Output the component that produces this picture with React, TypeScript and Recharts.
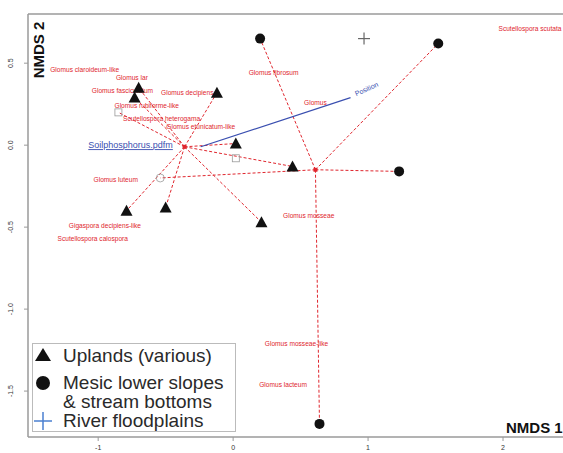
import React from "react";
import { ScatterChart, Scatter, XAxis, YAxis, ReferenceLine, Label } from "recharts";

// site scores
const uplandsX = [-0.7, -0.73, -0.12, 0.02, 0.44, -0.79, -0.5, 0.21];
const uplandsY = [0.35, 0.29, 0.32, 0.01, -0.13, -0.4, -0.38, -0.47];
const mesicX = [0.2, 1.52, 1.23, 0.64];
const mesicY = [0.65, 0.62, -0.16, -1.7];
const floodX = [0.97];
const floodY = [0.65];

// group centroids (spider hubs)
const uplandsHub = { x: -0.36, y: -0.01 };
const mesicHub = { x: 0.61, y: -0.15 };

// open symbols
const openSquareX = [-0.85, 0.02];
const openSquareY = [0.2, -0.08];
const openCircleX = [-0.54];
const openCircleY = [-0.2];

// species labels
const speciesNames = [
  "Glomus claroideum-like",
  "Glomus lar",
  "Glomus fasciculatum",
  "Glomus decipiens",
  "Glomus rubiforme-like",
  "Scutellospora heterogama",
  "Glomus etunicatum-like",
  "Glomus luteum",
  "Gigaspora decipiens-like",
  "Scutellospora calospora",
  "Glomus fibrosum",
  "Glomus",
  "Glomus mosseae",
  "Glomus mosseae-like",
  "Glomus lacteum",
  "Scutellospora scutata",
];
const speciesX = [-1.1, -0.75, -0.82, -0.34, -0.64, -0.53, -0.24, -0.87, -0.95, -1.04, 0.3, 0.61, 0.56, 0.47, 0.37, 2.2];
const speciesY = [0.46, 0.41, 0.33, 0.32, 0.24, 0.16, 0.11, -0.21, -0.49, -0.57, 0.44, 0.26, -0.43, -1.21, -1.46, 0.71];

// fitted environmental vector
const vectorFrom = { x: -0.24, y: -0.01 };
const vectorTo = { x: 0.87, y: 0.29 };
const vectorLabels = ["Soilphosphorus.pdfm", "Position"];
const vectorLabelX = [-0.76, 0.99];
const vectorLabelY = [0.0, 0.34];

const xTicks = [-1, 0, 1, 2];
const yTicks = [0.5, 0, -0.5, -1, -1.5];

const RED = "#e0262e";
const BLUE = "#3a4fb0";
const AXIS = "#9a9a9a";
const FONT = "Liberation Sans, Arial, sans-serif";

const zip = (xs: number[], ys: number[]) => xs.map((x, i) => ({ x, y: ys[i] }));
const uplands = zip(uplandsX, uplandsY);
const mesic = zip(mesicX, mesicY);
const flood = zip(floodX, floodY);
const species = speciesNames.map((name, i) => ({ x: speciesX[i], y: speciesY[i], name }));
const vecLabels = vectorLabels.map((name, i) => ({ x: vectorLabelX[i], y: vectorLabelY[i], name }));

const Triangle = (p: any) => (
  <polygon points={`${p.cx},${p.cy - 6} ${p.cx - 6},${p.cy + 5} ${p.cx + 6},${p.cy + 5}`} fill="#111" />
);
const Dot = (p: any) => <circle cx={p.cx} cy={p.cy} r={5} fill="#111" />;
const Cross = (p: any) => (
  <g stroke="#666" strokeWidth={1.2}>
    <line x1={p.cx - 6} y1={p.cy} x2={p.cx + 6} y2={p.cy} />
    <line x1={p.cx} y1={p.cy - 6} x2={p.cx} y2={p.cy + 6} />
  </g>
);
const OpenSquare = (p: any) => (
  <rect x={p.cx - 3.5} y={p.cy - 3.5} width={7} height={7} fill="none" stroke="#999" strokeWidth={0.8} />
);
const OpenCircle = (p: any) => <circle cx={p.cx} cy={p.cy} r={4} fill="none" stroke="#999" strokeWidth={0.8} />;
const HubMark = (p: any) => <rect x={p.cx - 2} y={p.cy - 2} width={4} height={4} fill={RED} />;

const SpeciesText = (p: any) => (
  <text x={p.cx} y={p.cy} dy={2} fontSize={6.6} fill={RED} textAnchor="middle" fontFamily={FONT}>
    {p.payload.name}
  </text>
);
const VectorText = (p: any) =>
  p.payload.name === "Position" ? (
    <text x={p.cx} y={p.cy} dy={2} fontSize={7} fill={BLUE} textAnchor="middle" transform={`rotate(-24 ${p.cx} ${p.cy})`} fontFamily={FONT}>
      {p.payload.name}
    </text>
  ) : (
    <text x={p.cx} y={p.cy} dy={3} fontSize={9} fill={BLUE} textAnchor="middle" textDecoration="underline" fontFamily={FONT}>
      {p.payload.name}
    </text>
  );

const XTick = (p: any) => (
  <text x={p.x} y={p.y + 7} fontSize={7} fill="#333" textAnchor="middle" fontFamily={FONT}>
    {p.payload.value}
  </text>
);
const YTick = (p: any) => (
  <text x={p.x - 9} y={p.y} fontSize={7} fill="#333" textAnchor="middle" transform={`rotate(-90 ${p.x - 9} ${p.y})`} fontFamily={FONT}>
    {p.payload.value.toFixed(1)}
  </text>
);

const spider = (hub: { x: number; y: number }, xs: number[], ys: number[]) =>
  xs.map((x, i) => (
    <ReferenceLine
      key={`${hub.x}-${i}`}
      segment={[hub, { x, y: ys[i] }]}
      stroke={RED}
      strokeWidth={1}
      strokeDasharray="3 2"
      ifOverflow="visible"
    />
  ));

const legendRows = [
  { label: "Uplands (various)", sym: "tri" },
  { label: "Mesic lower slopes\n& stream bottoms", sym: "dot" },
  { label: "River floodplains", sym: "cross" },
];

export default function App() {
  return (
    <div style={{ position: "fixed", left: 0, top: 0, width: 563, height: 453, overflow: "hidden", background: "#fff" }}>
      <ScatterChart width={594} height={453} margin={{ top: 14, right: 10, bottom: 0, left: 0 }}>
        <XAxis
          type="number"
          dataKey="x"
          domain={[-1.52, 2.6]}
          ticks={xTicks}
          height={16}
          tick={<XTick />}
          tickSize={4}
          tickLine={{ stroke: AXIS }}
          axisLine={{ stroke: AXIS, strokeWidth: 1.5 }}
          allowDataOverflow
        >
          <Label
            content={() => (
              <text x={506} y={433} fontSize={15} fontWeight="bold" fill="#111" fontFamily={FONT}>
                NMDS 1
              </text>
            )}
          />
        </XAxis>
        <YAxis
          type="number"
          dataKey="y"
          domain={[-1.78, 0.8]}
          ticks={yTicks}
          width={28}
          tick={<YTick />}
          tickSize={4}
          tickLine={{ stroke: AXIS }}
          axisLine={{ stroke: AXIS, strokeWidth: 1.5 }}
          allowDataOverflow
        >
          <Label
            content={() => (
              <text x={44} y={50} fontSize={15} fontWeight="bold" fill="#111" textAnchor="middle" transform="rotate(-90 44 50)" fontFamily={FONT}>
                NMDS 2
              </text>
            )}
          />
        </YAxis>
        <ReferenceLine y={0.8} stroke={AXIS} strokeWidth={1.5} />

        {spider(uplandsHub, uplandsX, uplandsY)}
        {spider(uplandsHub, [openSquareX[0]], [openSquareY[0]])}
        {spider(mesicHub, mesicX, mesicY)}
        {spider(mesicHub, openCircleX, openCircleY)}
        <ReferenceLine segment={[vectorFrom, vectorTo]} stroke={BLUE} strokeWidth={1.2} ifOverflow="visible" />

        <Scatter data={species} shape={<SpeciesText />} isAnimationActive={false} />
        <Scatter data={vecLabels} shape={<VectorText />} isAnimationActive={false} />
        <Scatter data={zip(openSquareX, openSquareY)} shape={<OpenSquare />} isAnimationActive={false} />
        <Scatter data={zip(openCircleX, openCircleY)} shape={<OpenCircle />} isAnimationActive={false} />
        <Scatter data={[uplandsHub, mesicHub]} shape={<HubMark />} isAnimationActive={false} />
        <Scatter name="Uplands (various)" data={uplands} shape={<Triangle />} isAnimationActive={false} />
        <Scatter name="Mesic lower slopes & stream bottoms" data={mesic} shape={<Dot />} isAnimationActive={false} />
        <Scatter name="River floodplains" data={flood} shape={<Cross />} isAnimationActive={false} />
      </ScatterChart>

      <div
        style={{
          position: "absolute",
          left: 32,
          top: 343,
          width: 204,
          height: 89,
          border: "1px solid #bbb",
          background: "#fff",
          fontFamily: FONT,
          fontSize: 19,
          color: "#2a2a2a",
          lineHeight: "19px",
          boxSizing: "border-box",
          paddingTop: 2,
        }}
      >
        {legendRows.map((r, i) => (
          <div key={r.label} style={{ display: "flex", alignItems: "flex-start", marginBottom: i === 0 ? 8 : 0 }}>
            <svg width={30} height={19} style={{ flex: "none" }}>
              {r.sym === "tri" && <polygon points="10,2 2,15 18,15" fill="#111" />}
              {r.sym === "dot" && <circle cx={10} cy={10} r={7} fill="#111" />}
              {r.sym === "cross" && (
                <g stroke="#4a7fd0" strokeWidth={1.5}>
                  <line x1={1} y1={10} x2={19} y2={10} />
                  <line x1={10} y1={1} x2={10} y2={19} />
                </g>
              )}
            </svg>
            <span style={{ whiteSpace: "pre" }}>{r.label}</span>
          </div>
        ))}
      </div>
    </div>
  );
}
